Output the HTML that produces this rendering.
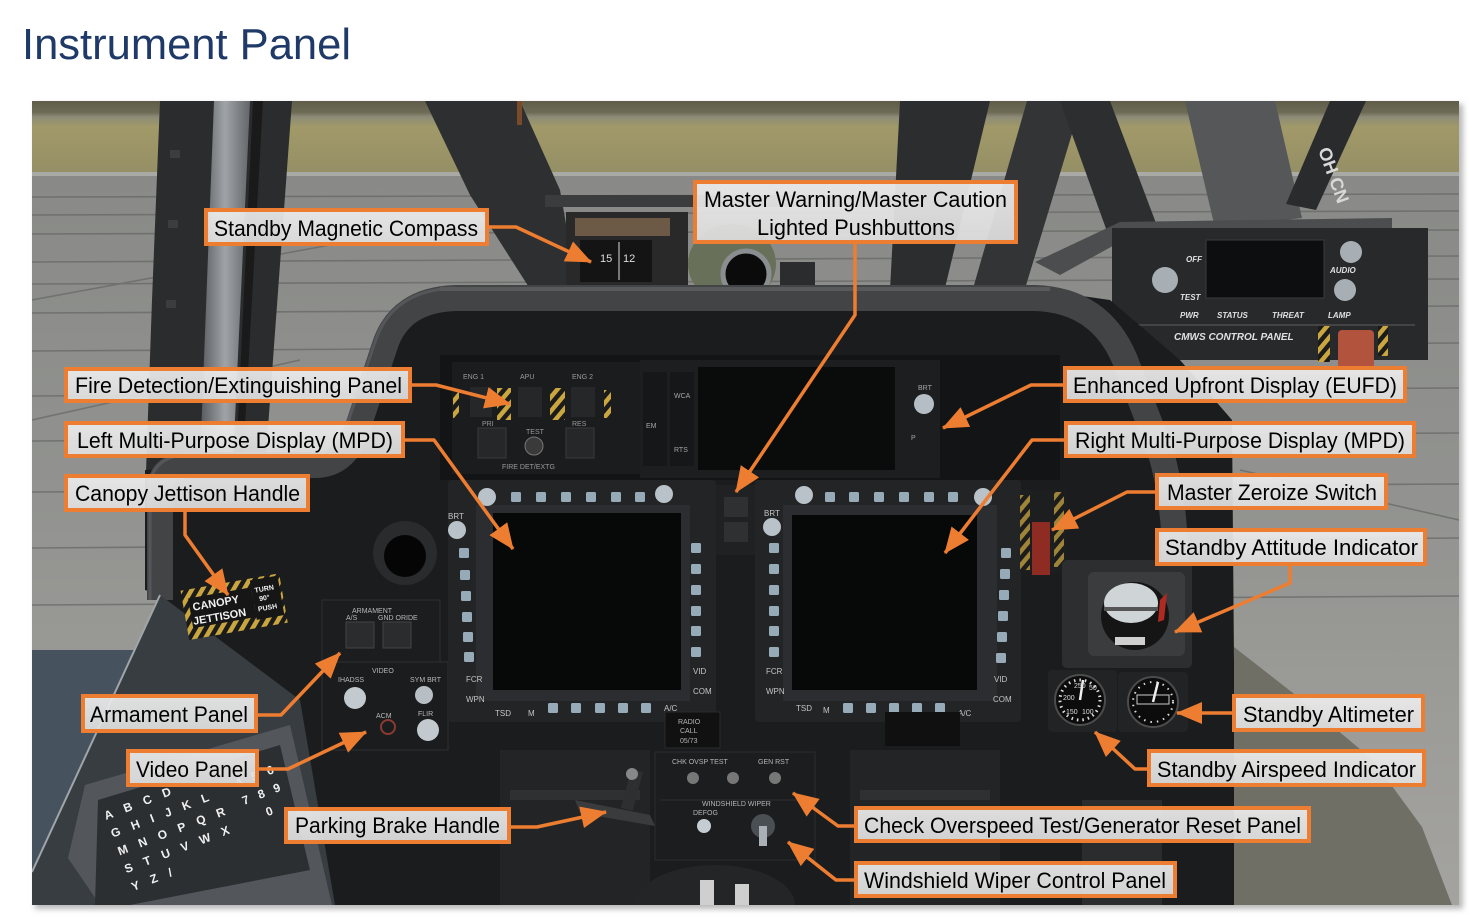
<!DOCTYPE html>
<html><head><meta charset="utf-8"><title>Instrument Panel</title>
<style>html,body{margin:0;padding:0;background:#fff;overflow:hidden}svg{display:block}</style>
</head><body>
<svg width="1469" height="917" viewBox="0 0 1469 917" xmlns="http://www.w3.org/2000/svg" xmlns:xlink="http://www.w3.org/1999/xlink">
<defs>
<clipPath id="ph"><rect x="32" y="101" width="1427" height="804"/></clipPath>
<filter id="sh" x="-5%" y="-5%" width="110%" height="110%"><feGaussianBlur stdDeviation="3"/></filter>
<linearGradient id="grass" x1="0" y1="0" x2="0" y2="1">
<stop offset="0" stop-color="#5f5d4a"/><stop offset="0.16" stop-color="#6e6b55"/><stop offset="0.22" stop-color="#8d8b78"/><stop offset="0.36" stop-color="#a19968"/><stop offset="1" stop-color="#958f66"/></linearGradient>
<linearGradient id="conc" x1="0" y1="0" x2="0" y2="1"><stop offset="0" stop-color="#878885"/><stop offset="0.5" stop-color="#929390"/><stop offset="1" stop-color="#a4a39f"/></linearGradient>
<linearGradient id="metal" x1="0" y1="0" x2="1" y2="0"><stop offset="0" stop-color="#55595c"/><stop offset="0.5" stop-color="#a0a4a7"/><stop offset="1" stop-color="#62666a"/></linearGradient>
<linearGradient id="lbl" x1="0" y1="0" x2="0" y2="1"><stop offset="0" stop-color="#ececec"/><stop offset="1" stop-color="#dedede"/></linearGradient>
<pattern id="hz" width="9" height="9" patternUnits="userSpaceOnUse" patternTransform="rotate(40)"><rect width="9" height="9" fill="#1b1b1b"/><rect width="4.5" height="9" fill="#c9a640"/></pattern>
<marker id="ah" markerUnits="userSpaceOnUse" markerWidth="26" markerHeight="22" viewBox="0 0 26 22" refX="25" refY="11" orient="auto"><path d="M0,0 L26,11 L0,22 z" fill="#ed7d31"/></marker>
<rect id="b" width="10" height="10" rx="1.5" fill="#97aab8"/>
</defs>

<text x="22" y="59" font-family="'Liberation Sans',Arial,sans-serif" font-size="44" fill="#1f3a68" textLength="329" lengthAdjust="spacingAndGlyphs">Instrument Panel</text>

<rect x="35" y="104" width="1428" height="805" fill="#b8b8b8" filter="url(#sh)"/>

<g clip-path="url(#ph)">
<rect x="32" y="101" width="1427" height="804" fill="url(#conc)"/>
<rect x="32" y="101" width="1427" height="72" fill="url(#grass)"/>
<rect x="32" y="172" width="1427" height="4" fill="#a9aaa6"/>
<g stroke="#666764" stroke-width="1.6" opacity="0.7" fill="none">
<line x1="32" y1="197" x2="1459" y2="194"/>
<line x1="32" y1="215" x2="1459" y2="211"/>
<line x1="32" y1="234" x2="1459" y2="230"/>
<line x1="32" y1="262" x2="1459" y2="256"/>
<line x1="32" y1="284" x2="1459" y2="279"/>
<line x1="32" y1="313" x2="1459" y2="306"/>
<line x1="32" y1="351" x2="1459" y2="343"/>
<line x1="32" y1="396" x2="1459" y2="388"/>
<line x1="32" y1="441" x2="1459" y2="433"/>
<line x1="32" y1="492" x2="1459" y2="484"/>
<line x1="32" y1="548" x2="1459" y2="538"/>
<line x1="32" y1="605" x2="1459" y2="596"/>
<line x1="32" y1="300" x2="330" y2="245"/>
<line x1="32" y1="420" x2="300" y2="360"/>
<line x1="1240" y1="470" x2="1459" y2="520"/>
</g>

<polygon points="160,101 292,101 266,455 240,472 146,472 152,300" fill="#2b2c2d"/>
<polygon points="214,101 250,101 233,462 200,462" fill="url(#metal)"/>
<polygon points="253,101 263,101 243,462 236,462" fill="#1a1a1b"/>
<g fill="#3c3d3e"><rect x="170" y="150" width="10" height="8"/><rect x="168" y="220" width="10" height="8"/><rect x="166" y="300" width="10" height="8"/><rect x="164" y="380" width="10" height="8"/></g>

<polygon points="425,101 520,101 560,190 578,292 532,292 470,195" fill="#2e2f30"/>
<rect x="517" y="101" width="5" height="24" fill="#7a4a2a"/>
<rect x="545" y="195" width="355" height="12" fill="#3b3c3d"/>
<polygon points="900,101 990,101 945,288 890,290" fill="#2c2d2f"/>
<polygon points="1027,101 1082,101 1024,292 972,292" fill="#333436"/>
<polygon points="1060,101 1110,101 1168,255 1118,262" fill="#2d2e30"/>
<polygon points="1185,101 1275,101 1302,218 1215,228" fill="#555759"/>
<polygon points="1330,101 1366,101 1316,210 1286,204" fill="#2a2b2d"/>
<text x="1318" y="150" font-family="'Liberation Sans',sans-serif" font-weight="bold" font-size="18" fill="#d8d8d8" transform="rotate(70 1318 150)">OH CN</text>

<polygon points="1035,262 1120,222 1392,218 1392,232 1120,242 1060,275" fill="#4b4d4f"/>
<rect x="1112" y="228" width="316" height="132" fill="#27292b"/>
<rect x="1206" y="240" width="118" height="58" fill="#0d0e0f" stroke="#3a3c3e"/>
<circle cx="1165" cy="280" r="13" fill="#a8afb4"/>
<circle cx="1351" cy="252" r="11" fill="#a8afb4"/>
<circle cx="1345" cy="290" r="11" fill="#a8afb4"/>
<line x1="1112" y1="325" x2="1415" y2="325" stroke="#444" stroke-width="2"/>
<g font-family="'Liberation Sans',sans-serif" font-weight="bold" font-style="italic" font-size="8" fill="#e0e0e0">
<text x="1180" y="318">PWR</text><text x="1217" y="318">STATUS</text><text x="1272" y="318">THREAT</text><text x="1328" y="318">LAMP</text>
<text x="1330" y="273">AUDIO</text><text x="1186" y="262">OFF</text><text x="1180" y="300">TEST</text>
<text x="1174" y="340" font-size="10">CMWS CONTROL PANEL</text></g>
<rect x="1318" y="326" width="12" height="36" fill="url(#hz)"/>
<rect x="1378" y="326" width="10" height="30" fill="url(#hz)"/>
<rect x="1338" y="330" width="36" height="40" rx="4" fill="#b2533d"/>

<rect x="566" y="212" width="122" height="88" fill="#29292a"/>
<rect x="575" y="218" width="95" height="18" fill="#6d5a46"/>
<rect x="580" y="240" width="72" height="42" fill="#141414"/>
<line x1="619" y1="242" x2="619" y2="280" stroke="#ddd"/>
<text x="600" y="262" font-family="'Liberation Sans',sans-serif" font-size="11" fill="#ddd">15</text>
<text x="623" y="262" font-family="'Liberation Sans',sans-serif" font-size="11" fill="#ddd">12</text>
<ellipse cx="732" cy="264" rx="44" ry="40" fill="#687059"/>
<circle cx="746" cy="274" r="23" fill="#0b0b0b" stroke="#8a8e90" stroke-width="5"/>
<rect x="780" y="262" width="35" height="38" fill="#2b2c2d"/>

<polygon points="145,470 330,462 365,395 395,320 460,290 1040,290 1110,300 1180,360 1232,420 1236,905 160,905 160,595 145,590" fill="#1b1c1d"/>
<path d="M160,600 L160,490 Q160,465 190,465 L315,465 Q345,465 357,430 L385,345 Q400,300 455,298 L1035,298 Q1100,300 1125,360 L1160,450 Q1175,500 1175,560" fill="none" stroke="#434446" stroke-width="26" stroke-linejoin="round"/>
<path d="M150,600 L150,490 Q150,455 190,455 L310,455 Q336,455 347,425 L375,342 Q392,290 455,288" fill="none" stroke="#55565a" stroke-width="3"/>
<line x1="440" y1="289" x2="1050" y2="289" stroke="#58595b" stroke-width="4"/>
<circle cx="1010" cy="420" r="30" fill="#0b0b0b" stroke="#2e2f31" stroke-width="6"/>

<polygon points="1234,647 1293,693 1373,760 1422,827 1452,905 1234,905" fill="#6f6f66"/>

<polygon points="32,650 134,650 32,870" fill="#46525e"/>
<polygon points="160,595 300,700 335,905 32,905 32,870" fill="#383d42"/>
<line x1="160" y1="595" x2="32" y2="872" stroke="#a0a5aa" stroke-width="2"/>
<polygon points="85,785 290,725 332,905 100,905 68,858" fill="#53575c"/>
<polygon points="98,800 280,745 310,870 130,905 95,905" fill="#2c2f32"/>
<g transform="translate(106,820) rotate(-21)" font-family="'Liberation Sans',sans-serif" font-weight="bold" font-size="12" fill="#f0f0f0" letter-spacing="12">
<text x="0" y="0">ABCD</text><text x="0" y="19">GHIJKL</text><text x="0" y="38">MNOPQR</text><text x="0" y="57">STUVWX</text><text x="0" y="76">YZ/</text></g>
<g transform="translate(244,805) rotate(-21)" font-family="'Liberation Sans',sans-serif" font-weight="bold" font-size="12" fill="#f0f0f0" letter-spacing="10">
<text x="0" y="-19">456</text><text x="0" y="0">789</text><text x="18" y="19">0</text></g>

<g transform="rotate(-10 232 606)">
<rect x="184" y="582" width="100" height="50" fill="url(#hz)"/>
<rect x="190" y="591" width="64" height="30" fill="#161616"/>
<rect x="254" y="584" width="28" height="40" fill="#161616"/>
<g font-family="'Liberation Sans',sans-serif" font-weight="bold" fill="#f2f2f2">
<text x="193" y="604" font-size="11">CANOPY</text><text x="191" y="618" font-size="11">JETTISON</text>
<text x="257" y="597" font-size="7">TURN</text><text x="260" y="606" font-size="7">90°</text><text x="257" y="616" font-size="7">PUSH</text></g></g>

<circle cx="405" cy="553" r="32" fill="#2a2b2c"/>
<circle cx="405" cy="556" r="21" fill="#050505"/>

<rect x="322" y="600" width="118" height="62" fill="#1c1d1e" stroke="#2f3032"/>
<rect x="346" y="622" width="28" height="26" fill="#2b2c2d" stroke="#444"/>
<rect x="383" y="622" width="28" height="26" fill="#2b2c2d" stroke="#444"/>
<rect x="322" y="662" width="126" height="88" fill="#1b1c1d" stroke="#2f3032"/>
<circle cx="355" cy="698" r="11" fill="#c2c9cf"/>
<circle cx="424" cy="695" r="9" fill="#b7bec4"/>
<circle cx="428" cy="730" r="11" fill="#c2c9cf"/>
<circle cx="388" cy="727" r="7" fill="none" stroke="#8a3a30" stroke-width="2"/>
<g font-family="'Liberation Sans',sans-serif" font-size="7" fill="#b8b8b8">
<text x="352" y="613">ARMAMENT</text><text x="346" y="620">A/S</text><text x="378" y="620">GND ORIDE</text>
<text x="372" y="673">VIDEO</text><text x="338" y="682">IHADSS</text><text x="410" y="682">SYM BRT</text><text x="376" y="718">ACM</text><text x="418" y="716">FLIR</text></g>

<rect x="440" y="355" width="620" height="125" fill="#131415"/>
<rect x="452" y="362" width="188" height="112" fill="#1b1c1d"/>
<rect x="470" y="387" width="22" height="30" fill="#262729"/>
<rect x="518" y="387" width="24" height="30" fill="#262729"/>
<rect x="571" y="387" width="24" height="30" fill="#262729"/>
<rect x="478" y="428" width="28" height="30" fill="#262729" stroke="#3a3a3a"/>
<rect x="566" y="428" width="28" height="30" fill="#262729" stroke="#3a3a3a"/>
<rect x="497" y="388" width="14" height="32" fill="url(#hz)"/>
<rect x="550" y="388" width="15" height="32" fill="url(#hz)"/>
<rect x="604" y="390" width="7" height="28" fill="url(#hz)"/>
<rect x="453" y="390" width="6" height="28" fill="url(#hz)"/>
<circle cx="534" cy="446" r="9" fill="#3a3a3a" stroke="#777"/>
<g font-family="'Liberation Sans',sans-serif" font-size="7" fill="#9a9a9a">
<text x="463" y="379">ENG 1</text><text x="520" y="379">APU</text><text x="572" y="379">ENG 2</text><text x="482" y="426">PRI</text><text x="526" y="434">TEST</text><text x="572" y="426">RES</text><text x="502" y="469">FIRE DET/EXTG</text></g>
<rect x="640" y="360" width="300" height="118" fill="#1d1e20"/>
<rect x="698" y="367" width="197" height="103" fill="#0a0b0b"/>
<rect x="643" y="372" width="24" height="94" fill="#161718"/>
<rect x="670" y="372" width="24" height="94" fill="#161718"/>
<circle cx="924" cy="404" r="10" fill="#b5bec5"/>
<g font-family="'Liberation Sans',sans-serif" font-size="7" fill="#a5a5a5">
<text x="674" y="398">WCA</text><text x="646" y="428">EM</text><text x="674" y="452">RTS</text><text x="911" y="440">P</text><text x="918" y="390">BRT</text></g>

<rect x="715" y="485" width="42" height="70" fill="#202123"/>
<rect x="724" y="497" width="24" height="20" fill="#2e3032"/>
<rect x="724" y="522" width="24" height="20" fill="#2e3032"/>

<rect x="448" y="480" width="268" height="242" rx="4" fill="#222426"/>
<rect x="476" y="505" width="214" height="196" fill="#2b2d30"/>
<rect x="493" y="513" width="188" height="177" fill="#070808"/>
<rect x="755" y="480" width="266" height="242" rx="4" fill="#222426"/>
<rect x="783" y="505" width="214" height="196" fill="#2b2d30"/>
<rect x="792" y="515" width="185" height="175" fill="#070808"/>
<g>
<use xlink:href="#b" href="#b" x="511" y="492"/><use xlink:href="#b" href="#b" x="536" y="492"/><use xlink:href="#b" href="#b" x="561" y="492"/><use xlink:href="#b" href="#b" x="586" y="492"/><use xlink:href="#b" href="#b" x="611" y="492"/><use xlink:href="#b" href="#b" x="635" y="492"/>
<use xlink:href="#b" href="#b" x="459" y="548"/><use xlink:href="#b" href="#b" x="460" y="570"/><use xlink:href="#b" href="#b" x="461" y="591"/><use xlink:href="#b" href="#b" x="462" y="612"/><use xlink:href="#b" href="#b" x="463" y="632"/><use xlink:href="#b" href="#b" x="464" y="652"/>
<use xlink:href="#b" href="#b" x="691" y="543"/><use xlink:href="#b" href="#b" x="691" y="564"/><use xlink:href="#b" href="#b" x="691" y="585"/><use xlink:href="#b" href="#b" x="691" y="606"/><use xlink:href="#b" href="#b" x="691" y="626"/><use xlink:href="#b" href="#b" x="691" y="647"/>
<use xlink:href="#b" href="#b" x="548" y="703"/><use xlink:href="#b" href="#b" x="571" y="703"/><use xlink:href="#b" href="#b" x="595" y="703"/><use xlink:href="#b" href="#b" x="618" y="703"/><use xlink:href="#b" href="#b" x="641" y="703"/>
<use xlink:href="#b" href="#b" x="825" y="492"/><use xlink:href="#b" href="#b" x="849" y="492"/><use xlink:href="#b" href="#b" x="874" y="492"/><use xlink:href="#b" href="#b" x="899" y="492"/><use xlink:href="#b" href="#b" x="924" y="492"/><use xlink:href="#b" href="#b" x="948" y="492"/>
<use xlink:href="#b" href="#b" x="769" y="543"/><use xlink:href="#b" href="#b" x="769" y="564"/><use xlink:href="#b" href="#b" x="769" y="585"/><use xlink:href="#b" href="#b" x="769" y="606"/><use xlink:href="#b" href="#b" x="769" y="626"/><use xlink:href="#b" href="#b" x="769" y="647"/>
<use xlink:href="#b" href="#b" x="1001" y="548"/><use xlink:href="#b" href="#b" x="1000" y="569"/><use xlink:href="#b" href="#b" x="999" y="590"/><use xlink:href="#b" href="#b" x="998" y="611"/><use xlink:href="#b" href="#b" x="997" y="632"/><use xlink:href="#b" href="#b" x="996" y="653"/>
<use xlink:href="#b" href="#b" x="843" y="703"/><use xlink:href="#b" href="#b" x="866" y="703"/><use xlink:href="#b" href="#b" x="889" y="703"/><use xlink:href="#b" href="#b" x="912" y="703"/><use xlink:href="#b" href="#b" x="935" y="703"/>
</g>
<g fill="#b9c2c9"><circle cx="487" cy="497" r="9"/><circle cx="664" cy="494" r="9"/><circle cx="457" cy="530" r="9"/><circle cx="804" cy="495" r="9"/><circle cx="983" cy="497" r="9"/><circle cx="772" cy="527" r="9"/></g>
<g font-family="'Liberation Sans',sans-serif" font-size="8" fill="#c4c4c4">
<text x="495" y="716">TSD</text><text x="528" y="716">M</text><text x="664" y="711">A/C</text><text x="466" y="682">FCR</text><text x="466" y="702">WPN</text><text x="693" y="674">VID</text><text x="693" y="694">COM</text><text x="448" y="519">BRT</text>
<text x="796" y="711">TSD</text><text x="823" y="713">M</text><text x="958" y="716">A/C</text><text x="766" y="674">FCR</text><text x="766" y="694">WPN</text><text x="994" y="682">VID</text><text x="993" y="702">COM</text><text x="764" y="516">BRT</text></g>

<rect x="1020" y="490" width="46" height="82" fill="#1d1e1f"/>
<rect x="1020" y="495" width="10" height="75" fill="url(#hz)" opacity="0.75"/>
<rect x="1054" y="492" width="10" height="75" fill="url(#hz)" opacity="0.75"/>
<rect x="1032" y="522" width="18" height="53" fill="#8e2b22"/>

<rect x="1062" y="560" width="130" height="108" rx="5" fill="#2c2e30"/>
<rect x="1088" y="572" width="97" height="84" rx="6" fill="#3a3c3e"/>
<circle cx="1135" cy="616" r="34" fill="#151515"/>
<ellipse cx="1131" cy="603" rx="27" ry="20" fill="#cfd4d6"/>
<rect x="1104" y="607" width="54" height="4" fill="#555"/>
<polygon points="1160,600 1167,593 1164,620 1158,622" fill="#b02a22"/>
<rect x="1115" y="637" width="30" height="8" fill="#cfcfcf"/>
<rect x="1048" y="670" width="69" height="62" rx="4" fill="#222325"/>
<rect x="1118" y="672" width="70" height="60" rx="4" fill="#222325"/>
<circle cx="1080" cy="700" r="25" fill="#0c0c0c" stroke="#4c4c4c" stroke-width="2"/>
<circle cx="1080" cy="700" r="20" fill="none" stroke="#ddd" stroke-width="3" stroke-dasharray="1.5 4"/>
<line x1="1080" y1="700" x2="1083" y2="680" stroke="#eee" stroke-width="2.5"/>
<circle cx="1153" cy="702" r="25" fill="#0c0c0c" stroke="#4c4c4c" stroke-width="2"/>
<circle cx="1153" cy="702" r="20" fill="none" stroke="#ddd" stroke-width="2" stroke-dasharray="1.5 5"/>
<rect x="1137" y="695" width="32" height="9" fill="none" stroke="#ccc"/>
<line x1="1153" y1="702" x2="1158" y2="682" stroke="#eee" stroke-width="2.5"/>
<g font-family="'Liberation Sans',sans-serif" font-size="7" fill="#ddd"><text x="1063" y="700">200</text><text x="1074" y="688">250</text><text x="1089" y="690">50</text><text x="1066" y="714">150</text><text x="1082" y="714">100</text></g>

<rect x="500" y="750" width="150" height="155" fill="#232426"/>
<rect x="850" y="750" width="150" height="155" fill="#232426"/>
<rect x="510" y="790" width="130" height="10" fill="#2f3032"/>
<rect x="860" y="790" width="130" height="10" fill="#2f3032"/>
<rect x="665" y="712" width="55" height="36" fill="#111" stroke="#2a2a2a"/>
<rect x="885" y="712" width="75" height="34" fill="#101010"/>
<rect x="655" y="752" width="160" height="108" fill="#1c1d1e" stroke="#2c2d2e"/>
<line x1="660" y1="800" x2="810" y2="800" stroke="#2d2e30"/>
<g fill="#777"><circle cx="693" cy="778" r="6"/><circle cx="733" cy="778" r="6"/><circle cx="775" cy="778" r="6"/></g>
<circle cx="704" cy="826" r="7" fill="#c5ccd2"/>
<circle cx="763" cy="826" r="12" fill="#4a4f54"/>
<rect x="759" y="826" width="8" height="20" fill="#a9b0b6"/>
<g font-family="'Liberation Sans',sans-serif" font-size="7" fill="#b5b5b5">
<text x="672" y="764">CHK OVSP TEST</text><text x="758" y="764">GEN RST</text><text x="702" y="806">WINDSHIELD WIPER</text><text x="693" y="815">DEFOG</text>
<text x="678" y="724">RADIO</text><text x="680" y="733">CALL</text><text x="680" y="743">05/73</text></g>
<polygon points="575,800 650,815 655,826 580,813" fill="#3a3b3d"/>
<rect x="626" y="770" width="12" height="40" fill="#2e2f31" transform="rotate(15 632 790)"/>
<circle cx="632" cy="774" r="6" fill="#888"/>
<ellipse cx="715" cy="905" rx="80" ry="40" fill="#242527"/>
<rect x="700" y="880" width="14" height="25" fill="#cfcfcf"/>
<rect x="735" y="884" width="14" height="21" fill="#cfcfcf"/>
<rect x="1082" y="800" width="80" height="105" fill="#2b2c2d"/>
</g>

<g fill="none" stroke="#ed7d31" stroke-width="3.5" stroke-linejoin="round" marker-end="url(#ah)">
<polyline points="489,227 516,227 591,262"/>
<polyline points="855,244 855,315 736,492"/>
<polyline points="412,385 436,385 510,404"/>
<polyline points="405,440 434,440 513,549"/>
<polyline points="185,512 185,535 228,595"/>
<polyline points="1063,385 1031,385 943,428"/>
<polyline points="1064,440 1032,440 945,553"/>
<polyline points="1155,492 1127,492 1052,530"/>
<polyline points="1290,566 1290,583 1175,632"/>
<polyline points="1232,713 1177,713"/>
<polyline points="1147,769 1135,769 1095,732"/>
<polyline points="854,826 838,826 793,793"/>
<polyline points="854,880 836,880 788,842"/>
<polyline points="258,715 281,715 340,653"/>
<polyline points="259,769 288,769 366,732"/>
<polyline points="511,827 537,827 606,812"/>
</g>

<g fill="url(#lbl)" fill-opacity="0.93" stroke="#ed7d31" stroke-width="4">
<rect x="206" y="210" width="281" height="34"/>
<rect x="695" y="182" width="321" height="60"/>
<rect x="66" y="369" width="344" height="32"/>
<rect x="66" y="423" width="337" height="33"/>
<rect x="66" y="476" width="242" height="34"/>
<rect x="1065" y="368" width="340" height="33"/>
<rect x="1066" y="423" width="348" height="33"/>
<rect x="1157" y="475" width="229" height="33"/>
<rect x="1157" y="530" width="268" height="34"/>
<rect x="1234" y="696" width="189" height="34"/>
<rect x="1149" y="751" width="275" height="34"/>
<rect x="856" y="808" width="453" height="33"/>
<rect x="856" y="863" width="319" height="33"/>
<rect x="83" y="696" width="173" height="35"/>
<rect x="128" y="751" width="129" height="34"/>
<rect x="286" y="809" width="223" height="33"/>
</g>
<g font-family="'Liberation Sans',Arial,sans-serif" font-size="22" fill="#000">
<text x="214" y="236" textLength="264" lengthAdjust="spacingAndGlyphs">Standby Magnetic Compass</text>
<text x="704" y="207" textLength="303" lengthAdjust="spacingAndGlyphs">Master Warning/Master Caution</text>
<text x="757" y="235" textLength="198" lengthAdjust="spacingAndGlyphs">Lighted Pushbuttons</text>
<text x="75" y="393" textLength="327" lengthAdjust="spacingAndGlyphs">Fire Detection/Extinguishing Panel</text>
<text x="77" y="448" textLength="316" lengthAdjust="spacingAndGlyphs">Left Multi-Purpose Display (MPD)</text>
<text x="75" y="501" textLength="225" lengthAdjust="spacingAndGlyphs">Canopy Jettison Handle</text>
<text x="1073" y="393" textLength="324" lengthAdjust="spacingAndGlyphs">Enhanced Upfront Display (EUFD)</text>
<text x="1075" y="448" textLength="330" lengthAdjust="spacingAndGlyphs">Right Multi-Purpose Display (MPD)</text>
<text x="1167" y="500" textLength="210" lengthAdjust="spacingAndGlyphs">Master Zeroize Switch</text>
<text x="1165" y="555" textLength="253" lengthAdjust="spacingAndGlyphs">Standby Attitude Indicator</text>
<text x="1243" y="722" textLength="171" lengthAdjust="spacingAndGlyphs">Standby Altimeter</text>
<text x="1157" y="777" textLength="259" lengthAdjust="spacingAndGlyphs">Standby Airspeed Indicator</text>
<text x="864" y="833" textLength="437" lengthAdjust="spacingAndGlyphs">Check Overspeed Test/Generator Reset Panel</text>
<text x="864" y="888" textLength="302" lengthAdjust="spacingAndGlyphs">Windshield Wiper Control Panel</text>
<text x="90" y="722" textLength="158" lengthAdjust="spacingAndGlyphs">Armament Panel</text>
<text x="136" y="777" textLength="112" lengthAdjust="spacingAndGlyphs">Video Panel</text>
<text x="295" y="833" textLength="205" lengthAdjust="spacingAndGlyphs">Parking Brake Handle</text>
</g>
</svg>
</body></html>
